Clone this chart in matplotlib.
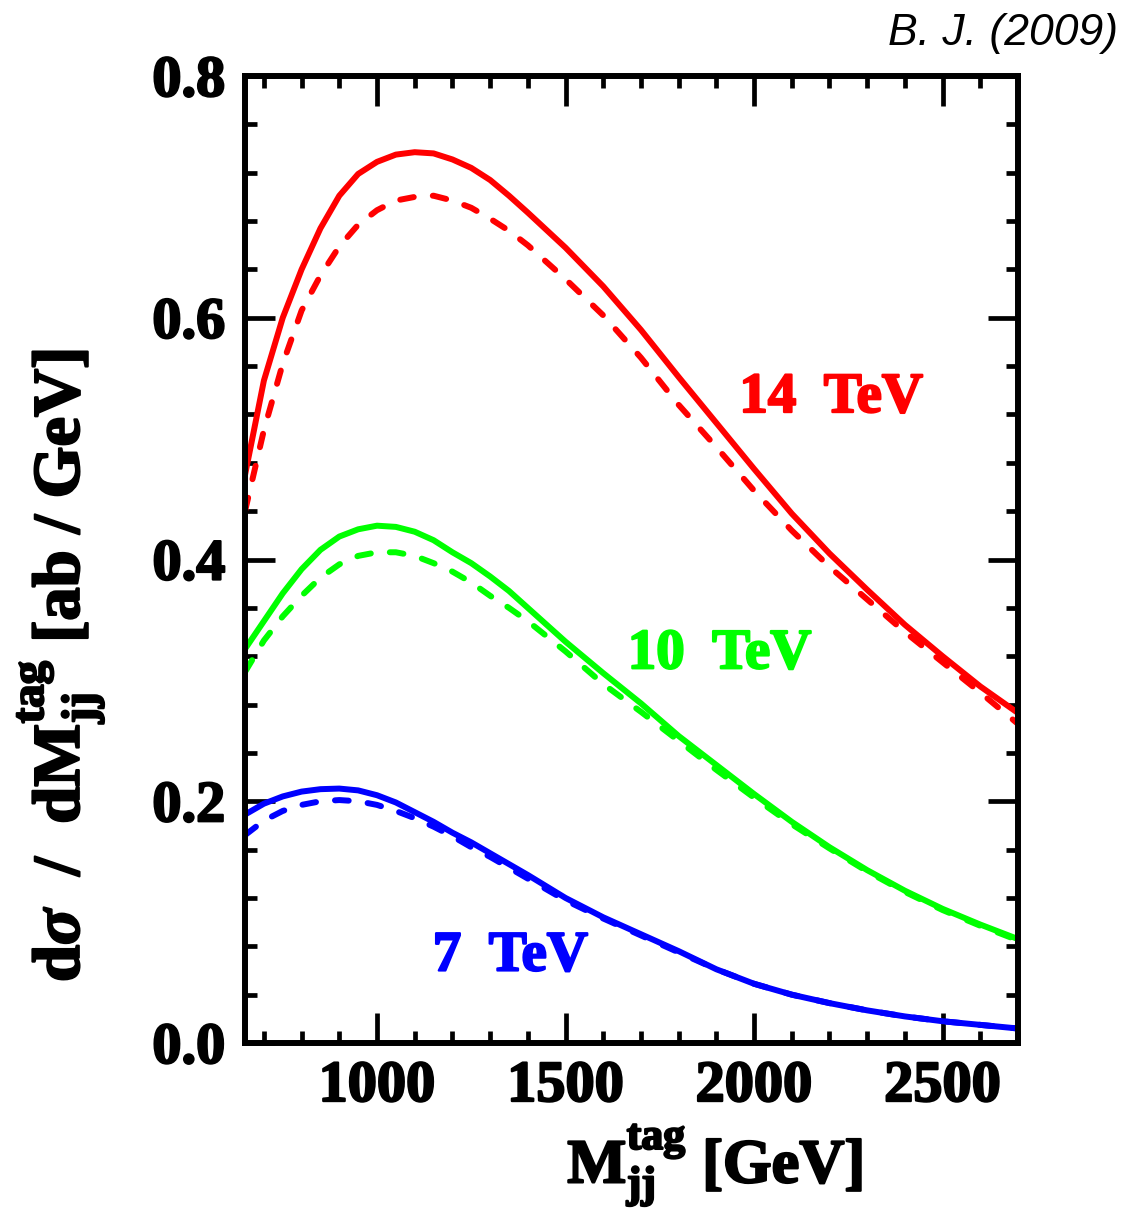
import numpy as np
import matplotlib
matplotlib.use('Agg')
import matplotlib.pyplot as plt
import matplotlib.patheffects as pe
from matplotlib.ticker import MultipleLocator

# 数据
mjj = [650, 700, 750, 800, 850, 900, 950, 1000, 1050, 1100, 1150, 1200, 1250,
       1300, 1350, 1400, 1500, 1600, 1700, 1800, 1900, 2000, 2100, 2200, 2300,
       2400, 2500, 2600, 2700]

tev14_solid = [0.470, 0.548, 0.600, 0.640, 0.674, 0.701, 0.719, 0.729, 0.735, 0.737,
               0.736, 0.731, 0.724, 0.714, 0.701, 0.687, 0.658, 0.626, 0.590, 0.551,
               0.513, 0.475, 0.438, 0.405, 0.375, 0.346, 0.320, 0.295, 0.273]
tev14_dash = [0.440, 0.507, 0.562, 0.606, 0.635, 0.659, 0.677, 0.689, 0.697, 0.700,
              0.701, 0.697, 0.691, 0.682, 0.672, 0.660, 0.632, 0.602, 0.567, 0.528,
              0.493, 0.457, 0.424, 0.394, 0.367, 0.340, 0.315, 0.290, 0.264]

tev10_solid = [0.326, 0.349, 0.372, 0.392, 0.408, 0.419, 0.425, 0.428, 0.427, 0.423,
               0.416, 0.406, 0.397, 0.386, 0.374, 0.360, 0.332, 0.306, 0.281, 0.254,
               0.230, 0.206, 0.183, 0.162, 0.143, 0.126, 0.111, 0.098, 0.086]
tev10_dash = [0.307, 0.333, 0.353, 0.370, 0.385, 0.396, 0.403, 0.406, 0.406, 0.403,
              0.397, 0.390, 0.381, 0.370, 0.360, 0.349, 0.324, 0.297, 0.274, 0.250,
              0.226, 0.203, 0.181, 0.161, 0.142, 0.125, 0.110, 0.097, 0.085]

tev7_solid = [0.189, 0.198, 0.204, 0.208, 0.210, 0.2105, 0.209, 0.205, 0.199, 0.191,
              0.183, 0.174, 0.166, 0.157, 0.148, 0.139, 0.120, 0.104, 0.090, 0.076,
              0.061, 0.049, 0.040, 0.033, 0.027, 0.022, 0.018, 0.015, 0.012]
tev7_dash = [0.172, 0.184, 0.192, 0.197, 0.200, 0.201, 0.200, 0.197, 0.192, 0.186,
             0.179, 0.171, 0.162, 0.154, 0.145, 0.136, 0.118, 0.103, 0.089, 0.075,
             0.061, 0.049, 0.040, 0.033, 0.027, 0.022, 0.018, 0.015, 0.012]

labels = ['14  TeV', '10  TeV', '7  TeV']
colors = ['#ff0000', '#00ff00', '#0000ff']
label_pos = [(1961, 0.522), (1665, 0.310), (1148, 0.060)]

plt.rcParams['font.family'] = ['Liberation Serif', 'DejaVu Serif']
plt.rcParams['font.weight'] = 'bold'
plt.rcParams['mathtext.fontset'] = 'custom'
plt.rcParams['mathtext.rm'] = 'Liberation Serif:bold'
plt.rcParams['mathtext.it'] = 'Liberation Serif:italic:bold'
plt.rcParams['mathtext.bf'] = 'Liberation Serif:bold'

fig = plt.figure(figsize=(11.24, 12.09), dpi=100)
ax = fig.add_axes([0.218, 0.1373, 0.6877, 0.7998])

lw = 4.3
series = [(tev14_solid, tev14_dash), (tev10_solid, tev10_dash), (tev7_solid, tev7_dash)]
for (sol, das), c in zip(series, colors):
    ax.plot(mjj, sol, color=c, lw=lw, solid_capstyle='round', solid_joinstyle='round')
    ax.plot(mjj, das, color=c, lw=lw, dashes=(2.3, 3.2), dash_capstyle='round')


def heavy(c):
    # 加粗字体笔画
    return [pe.withStroke(linewidth=1.6, foreground=c)]


for txt, c, (x, y) in zip(labels, colors, label_pos):
    ax.text(x, y, txt, color=c, fontsize=41, fontweight='bold', ha='left',
            va='baseline', path_effects=heavy(c))

ax.set_xlim(650, 2700)
ax.set_ylim(0, 0.8)
ax.xaxis.set_major_locator(MultipleLocator(500))
ax.xaxis.set_minor_locator(MultipleLocator(100))
ax.yaxis.set_major_locator(MultipleLocator(0.2))
ax.yaxis.set_minor_locator(MultipleLocator(0.04))
ax.yaxis.set_major_formatter(matplotlib.ticker.FormatStrFormatter('%.1f'))

for s in ax.spines.values():
    s.set_linewidth(4.3)
ax.tick_params(which='both', direction='in', top=True, right=True, width=3.4)
ax.tick_params(which='major', length=21.5, labelsize=42)
ax.tick_params(which='minor', length=8.6)
ax.tick_params(axis='x', which='major', pad=13)
ax.tick_params(axis='y', which='major', pad=14)
for lab in ax.get_xticklabels() + ax.get_yticklabels():
    lab.set_fontweight('bold')
    lab.set_path_effects(heavy('black'))

fig.text(715 / 1124, 1 - 1165 / 1209, r'M$_{\rm jj}^{\rm tag}$ [GeV]',
         fontsize=45, ha='center', va='center', path_effects=heavy('black'))
fig.text(60 / 1124, 1 - 666 / 1209,
         r'd$\sigma$  /  dM$_{\rm jj}^{\rm tag}$ [ab / GeV]',
         fontsize=48, ha='center', va='center', rotation=90,
         path_effects=heavy('black'))
fig.text(1118 / 1124, 1 - 45 / 1209, 'B. J. (2009)', fontsize=32, ha='right',
         va='baseline', family='Liberation Sans', style='italic', fontweight='normal')

fig.savefig('out.png', dpi=100)
